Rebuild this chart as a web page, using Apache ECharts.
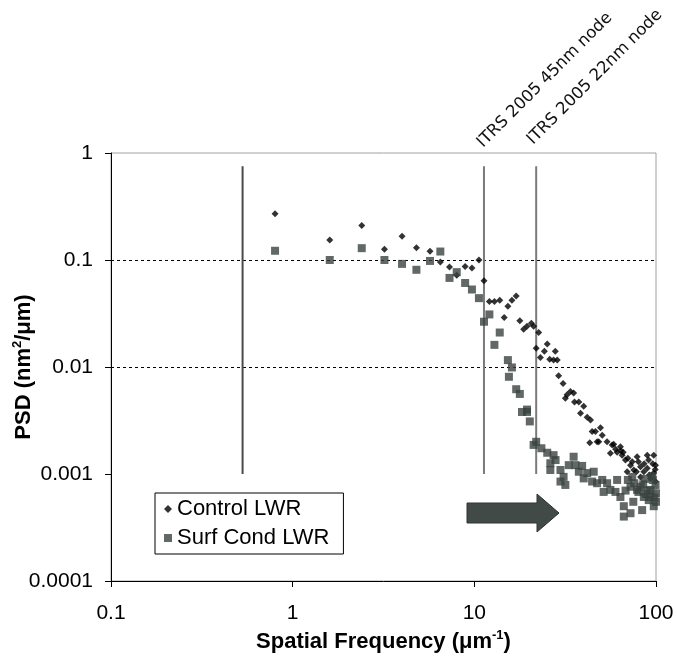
<!DOCTYPE html>
<html>
<head>
<meta charset="utf-8">
<script src="https://cdn.jsdelivr.net/npm/echarts@6/dist/echarts.min.js"></script>
<style>
  html, body { margin: 0; padding: 0; background: #fff; }
  #chart { width: 677px; height: 659px; }
</style>
</head>
<body>
<div id="chart"></div>
<script>
// tick labels
const xTickLabels = ['0.1', '1', '10', '100']
const yTickLabels = ['0.0001', '0.001', '0.01', '0.1', '1']
// dashed horizontal gridlines (the top edge is the plot frame)
const yGridLevels = [0.1, 0.01, 0.001]

// Control LWR [frequency, psd]
const controlLWR = [
  [0.8, 0.27], [1.6, 0.154], [2.4, 0.21], [3.2, 0.126], [4.0, 0.167], [4.8, 0.13],
  [5.7, 0.121], [6.5, 0.096], [7.3, 0.086], [8.0, 0.072], [8.9, 0.087], [9.7, 0.084],
  [10.6, 0.1], [11.3, 0.064], [12.1, 0.041], [12.9, 0.041], [13.8, 0.042], [14.6, 0.029],
  [15.3, 0.037], [16.1, 0.042], [17.0, 0.046], [17.8, 0.027], [18.7, 0.0225], [19.5, 0.024],
  [20.6, 0.0256], [21.2, 0.024], [21.9, 0.015], [22.6, 0.021], [23.1, 0.0123], [24.3, 0.014],
  [25.2, 0.0164], [26.0, 0.0118], [27.3, 0.0116], [27.9, 0.014], [28.6, 0.0116], [29.1, 0.0083],
  [30.8, 0.007], [32.4, 0.0055], [31.7, 0.0051], [33.8, 0.0059], [35.2, 0.0057], [35.6, 0.0047],
  [37.6, 0.0047], [40.0, 0.0043], [38.4, 0.0037], [43.6, 0.0032], [41.8, 0.0034], [49.5, 0.0027],
  [44.5, 0.0025], [50.6, 0.0023], [47.4, 0.002], [53.8, 0.002], [58.5, 0.0019], [63.7, 0.0018],
  [46.4, 0.0025], [43.2, 0.00196], [48.4, 0.002], [57.4, 0.00187], [61.1, 0.0016], [56.1, 0.00156],
  [65.1, 0.0015], [67.9, 0.00135], [78.7, 0.00145], [89.5, 0.0015], [97.2, 0.0015], [72.4, 0.00121],
  [82.2, 0.00117], [89.5, 0.00113], [99.4, 0.00121], [75.5, 0.00109], [85.7, 0.00105], [97.2, 0.00102],
  [69.4, 0.00105], [93.3, 0.00091], [82.2, 0.00094], [99.4, 0.00085], [64, 0.00165], [70, 0.0014],
  [74, 0.0013], [80, 0.0013], [86, 0.00125], [91, 0.00135], [96, 0.00125], [99, 0.0011],
  [78, 0.00105], [92, 0.00098], [60, 0.0017], [66, 0.0016]
]

// Surf Cond LWR [frequency, psd]
const surfCondLWR = [
  [0.8, 0.122], [1.6, 0.1], [2.4, 0.129], [3.2, 0.1], [4.0, 0.092], [4.8, 0.081],
  [5.7, 0.098], [6.5, 0.12], [7.3, 0.068], [8.0, 0.077], [8.9, 0.061], [9.7, 0.053],
  [10.6, 0.044], [11.3, 0.0265], [12.1, 0.031], [12.9, 0.0161], [13.8, 0.021], [15.3, 0.0116],
  [16.1, 0.0099], [15.5, 0.0081], [17.0, 0.0062], [17.8, 0.0056], [19.5, 0.004], [18.3, 0.0038],
  [19.5, 0.0038], [20.2, 0.0031], [21.2, 0.00187], [21.9, 0.002], [23.4, 0.00174], [25.2, 0.00158],
  [27.3, 0.0015], [28.0, 0.00135], [26.2, 0.00126], [26.2, 0.00109], [29.8, 0.00109], [31.0, 0.00094],
  [31.7, 0.00079], [29.8, 0.00085], [33.1, 0.00121], [35.2, 0.00145], [36.0, 0.00121], [39.2, 0.00119],
  [37.6, 0.00105], [41.8, 0.00102], [40.0, 0.00091], [45.4, 0.00105], [44.5, 0.00085], [47.4, 0.00082],
  [50.6, 0.00088], [53.8, 0.00082], [51.5, 0.00068], [56.1, 0.00071], [61.1, 0.00088], [59.8, 0.00068],
  [63.7, 0.00061], [66.5, 0.0004], [66.5, 0.0005], [72.4, 0.00043], [74.0, 0.00094], [72.4, 0.00076],
  [78.7, 0.00071], [83.9, 0.00046], [85.7, 0.00061], [93.3, 0.00071], [97.2, 0.0005], [99.4, 0.00079],
  [91.2, 0.00057], [82.2, 0.00076], [93.3, 0.00061], [85, 0.0008], [90, 0.0007], [96, 0.00088],
  [100, 0.00066], [88, 0.00065], [98, 0.0006], [80, 0.00068], [76, 0.00082], [70, 0.00088],
  [100, 0.00055], [95, 0.00095], [68, 0.0007], [75, 0.00055], [87, 0.0009]
]

// vertical reference lines (frequency) and their span
const refLineX = [0.53, 11.3, 21.9]
const refLineColor = ['#4a4a4a', '#7a7a7a', '#7a7a7a']
const refLineSpan = [0.001, 0.75]
const nodeLabels = ['ITRS 2005 45nm node', 'ITRS 2005 22nm node']

const FONT = 'Liberation Sans, Arial, sans-serif'

const pickLabel = (labels) => (v) =>
  labels.find((t) => Math.abs(Math.log10(+t) - Math.log10(v)) < 1e-6) || ''

const chart = echarts.init(document.getElementById('chart'))

const refSeries = refLineX.map((x, i) => ({
  type: 'line',
  silent: true,
  symbol: 'none',
  z: 2,
  lineStyle: { color: refLineColor[i], width: 2 },
  data: refLineSpan.map((y) => [x, y])
}))

const supStyle = { fontFamily: FONT, fontSize: 13, fontWeight: 'bold', color: '#000', verticalAlign: 'top', lineHeight: 14 }

const option = {
  animation: false,
  backgroundColor: '#fff',
  grid: {
    left: 111,
    top: 153,
    right: 21,
    bottom: 78,
    outerBoundsMode: 'none',
    containLabel: false,
    show: true,
    borderColor: '#a0a0a0',
    borderWidth: 1
  },
  legend: {
    data: ['Control LWR', 'Surf Cond LWR'],
    orient: 'vertical',
    left: 155,
    top: 493,
    padding: [5, 14, 5, 9],
    itemGap: 7,
    itemWidth: 8,
    itemHeight: 8,
    borderColor: '#000',
    borderWidth: 1,
    backgroundColor: '#fff',
    textStyle: { fontFamily: FONT, fontSize: 22, color: '#000' }
  },
  xAxis: {
    type: 'log',
    logBase: 10,
    min: 0.1,
    max: 100,
    name: 'Spatial Frequency (μm{sup|-1})',
    nameLocation: 'middle',
    nameGap: 48,
    nameMoveOverlap: false,
    nameTextStyle: { fontFamily: FONT, fontSize: 22, fontWeight: 'bold', color: '#000', lineHeight: 26, rich: { sup: supStyle } },
    axisLine: { lineStyle: { color: '#000', width: 1 } },
    axisTick: { show: true, length: 6, lineStyle: { color: '#000' } },
    minorTick: { show: false },
    splitLine: { show: false },
    axisLabel: { margin: 22, fontFamily: FONT, fontSize: 21, color: '#000', formatter: pickLabel(xTickLabels) }
  },
  yAxis: {
    type: 'log',
    logBase: 10,
    min: 0.0001,
    max: 1,
    name: 'PSD (nm{sup|2}/μm)',
    nameLocation: 'middle',
    nameGap: 74,
    nameMoveOverlap: false,
    nameTextStyle: { fontFamily: FONT, fontSize: 22, fontWeight: 'bold', color: '#000', lineHeight: 26, rich: { sup: supStyle } },
    axisLine: { show: true, lineStyle: { color: '#000', width: 1 } },
    axisTick: { show: true, length: 6, lineStyle: { color: '#000' } },
    splitLine: { show: false },
    axisLabel: { margin: 18, fontFamily: FONT, fontSize: 21, color: '#000', formatter: pickLabel(yTickLabels) }
  },
  series: [
    ...refSeries,
    {
      name: 'Control LWR',
      type: 'scatter',
      symbol: 'diamond',
      symbolSize: 7,
      itemStyle: { color: '#000' },
      z: 3,
      data: controlLWR,
      markLine: {
        silent: true,
        symbol: 'none',
        label: { show: false },
        z: 1,
        lineStyle: { color: '#000', width: 1, type: [3, 3] },
        data: yGridLevels.map((v) => ({ yAxis: v }))
      }
    },
    {
      name: 'Surf Cond LWR',
      type: 'scatter',
      symbol: 'rect',
      symbolSize: 8,
      itemStyle: { color: '#3a423e' },
      z: 4,
      data: surfCondLWR
    }
  ],
  graphic: [
    // rotated node labels
    {
      type: 'text', x: 486, y: 151, rotation: Math.PI / 4,
      style: { text: nodeLabels[0], fontFamily: 'DejaVu Sans', fontSize: 16.5, fill: '#111', align: 'left', verticalAlign: 'bottom' }
    },
    {
      type: 'text', x: 536, y: 148, rotation: Math.PI / 4,
      style: { text: nodeLabels[1], fontFamily: 'DejaVu Sans', fontSize: 16.5, fill: '#111', align: 'left', verticalAlign: 'bottom' }
    },
    // block arrow
    {
      type: 'polygon',
      shape: { points: [[467, 503], [537, 503], [537, 494], [559, 513], [537, 532], [537, 523], [467, 523]] },
      style: { fill: '#424a47', stroke: '#2f3432', lineWidth: 1 }
    }
  ]
}

chart.setOption(option)
</script>
</body>
</html>
